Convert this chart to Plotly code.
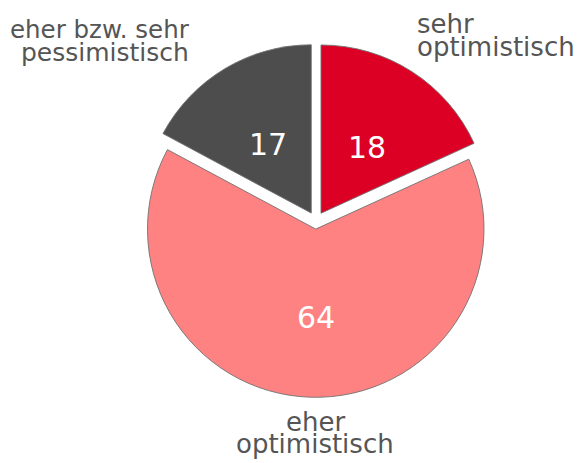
import plotly.graph_objects as go

categories = ["sehr optimistisch", "eher optimistisch", "eher bzw. sehr pessimistisch"]
values = [18, 64, 17]
label_lines = [["sehr", "optimistisch"], ["eher", "optimistisch"], ["eher bzw. sehr", "pessimistisch"]]
colors = ["#DD0025", "#FF8282", "#4D4D4D"]
pulls = [0.055, 0.048, 0.055]

W, H = 579, 463
FONT = "DejaVu Sans"
TXT = "#555555"

fig = go.Figure(go.Pie(
    labels=categories,
    values=values,
    sort=False,
    direction="clockwise",
    rotation=0,
    pull=pulls,
    marker=dict(colors=colors, line=dict(color="#707070", width=0.9)),
    textinfo="none",
    hoverinfo="label+value",
    domain=dict(x=[(316 - 177.5) / W, (316 + 177.5) / W], y=[(H - 221 - 177.5) / H, (H - 221 + 177.5) / H]),
    showlegend=False,
))

annotations = []
# value labels inside the slices (pixel centres)
value_pos = [(367, 147), (315.5, 317), (268, 144)]
for v, (px, py) in zip(values, value_pos):
    annotations.append(dict(
        text=str(v), x=px / W, y=1 - py / H, xref="paper", yref="paper",
        xanchor="center", yanchor="middle", showarrow=False, borderpad=0,
        font=dict(family=FONT, size=30, color="white"),
    ))

# outside category labels (pixel positions of each line: x, y-center, anchor, size)
label_pos = [
    [(416, 24, "left", 26), (416, 47, "left", 26)],
    [(315, 422, "center", 26), (315, 444, "center", 26)],
    [(191, 29, "right", 24.5), (190, 52, "right", 25)],
]
for lines, poss in zip(label_lines, label_pos):
    for line, (px, py, anc, fs) in zip(lines, poss):
        annotations.append(dict(
            text=line, x=px / W, y=1 - py / H, xref="paper", yref="paper",
            xanchor=anc, yanchor="middle", showarrow=False, borderpad=0,
            font=dict(family=FONT, size=fs, color=TXT),
        ))

fig.update_layout(
    width=W, height=H,
    margin=dict(l=0, r=0, t=0, b=0),
    paper_bgcolor="white",
    plot_bgcolor="white",
    annotations=annotations,
)

fig.write_html("out.html", config={"displayModeBar": False},
               post_script="document.body.style.margin='0';")
